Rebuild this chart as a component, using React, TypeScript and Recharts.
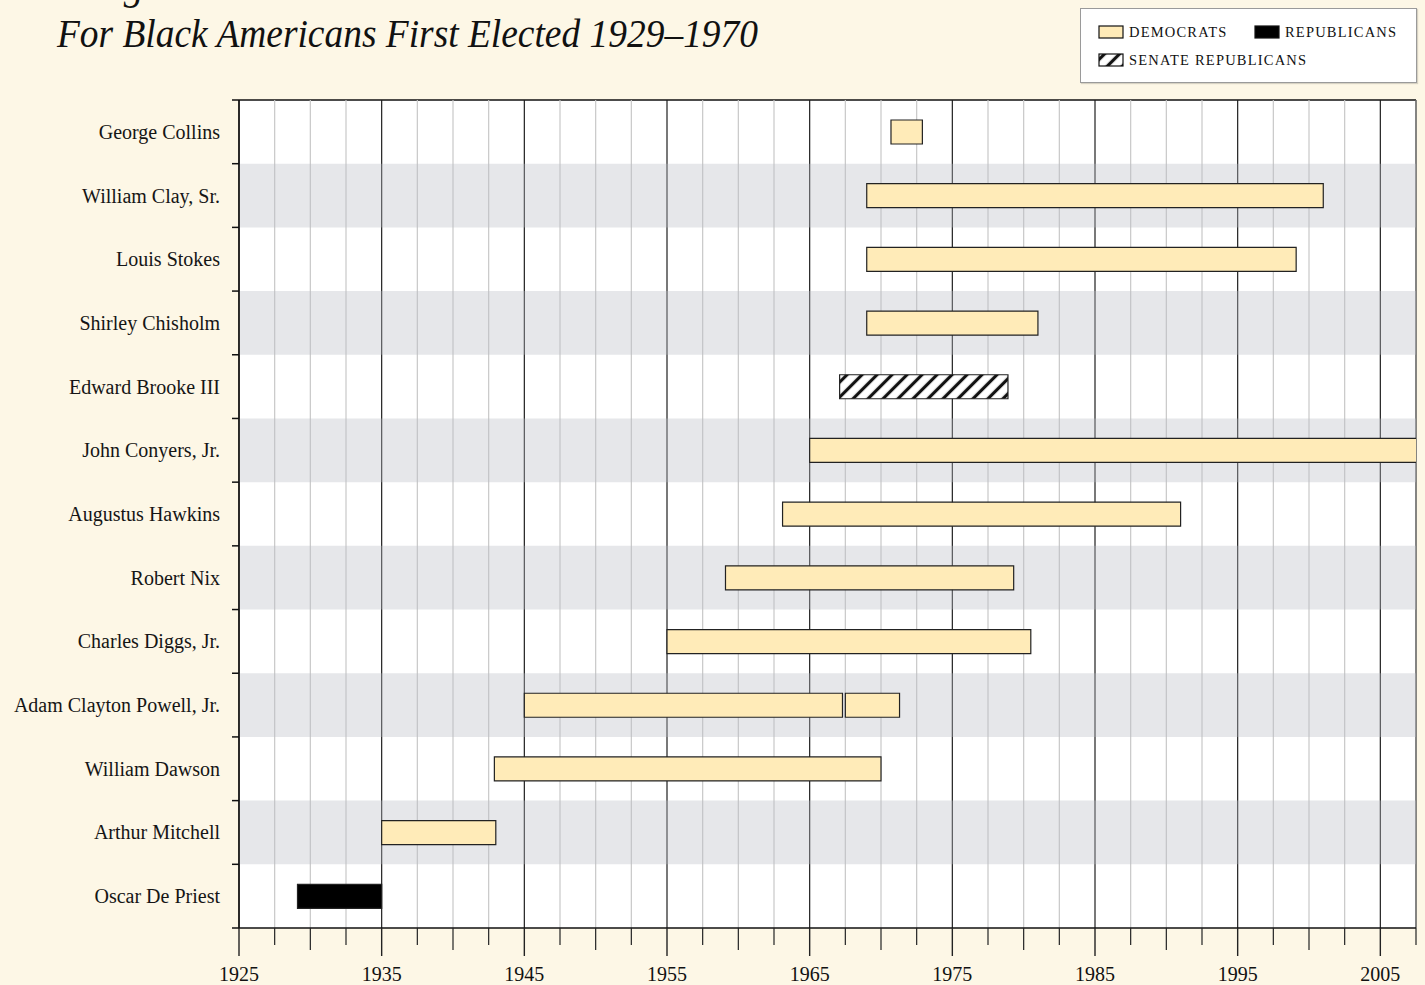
import React from "react";
import {
  BarChart,
  Bar,
  XAxis,
  YAxis,
  CartesianGrid,
  ReferenceArea,
  Cell,
  Legend
} from "recharts";

// members, top row first
const members = [
  "George Collins",
  "William Clay, Sr.",
  "Louis Stokes",
  "Shirley Chisholm",
  "Edward Brooke III",
  "John Conyers, Jr.",
  "Augustus Hawkins",
  "Robert Nix",
  "Charles Diggs, Jr.",
  "Adam Clayton Powell, Jr.",
  "William Dawson",
  "Arthur Mitchell",
  "Oscar De Priest"
];
const termStart = [1970.7, 1969.0, 1969.0, 1969.0, 1967.1, 1965.0, 1963.1, 1959.1, 1955.0, 1945.0, 1942.9, 1935.0, 1929.1];
const termEnd = [1972.9, 2001.0, 1999.1, 1981.0, 1978.9, 2009.0, 1991.0, 1979.3, 1980.5, 1967.3, 1970.0, 1943.0, 1935.0];
// D = democrat, R = republican, S = senate republican
const party = ["D", "D", "D", "D", "S", "D", "D", "D", "D", "D", "D", "D", "R"];
// Powell's second (re-seated) term
const secondTermMember = "Adam Clayton Powell, Jr.";
const secondTerm = [1967.5, 1971.3];

const majorYears = [1925, 1935, 1945, 1955, 1965, 1975, 1985, 1995, 2005];
const yearDomain = [1925, 2007.5];
const yearTicks = majorYears
  .flatMap(y => [y, y + 2.5, y + 5, y + 7.5])
  .filter(y => y <= yearDomain[1]);

const FONT = '"Liberation Serif", "DejaVu Serif", "Times New Roman", serif';
const CREAM = "#fdf7e6";
const DEM_FILL = "#ffebb8";
const BAND = "#b9bcc4";
const NAME_MARGIN = 19;

const data = members.map((name, i) => ({
  name,
  party: party[i],
  term: [termStart[i], termEnd[i]],
  second: name === secondTermMember ? secondTerm : null
}));

const fillFor = (p: string) => (p === "R" ? "#000" : p === "S" ? "url(#senateHatch)" : DEM_FILL);

const YearTick = (props: any) => {
  const { x, y, payload } = props;
  const v = payload.value;
  const major = majorYears.includes(v);
  const five = (v - 1925) % 5 === 0;
  const len = major ? 28 : five ? 22 : 17;
  return (
    <g>
      <line x1={x} x2={x} y1={y} y2={y + len} stroke="#222" strokeWidth={major ? 1.4 : 1.2} />
      {major && (
        <text x={x} y={y + 53} textAnchor="middle" fontSize={20} fontFamily={FONT} fill="#111">
          {v}
        </text>
      )}
    </g>
  );
};

// name label plus little ticks on the row boundaries
const NameTick = (props: any) => {
  const { x, y, payload, index } = props;
  const half = payload.offset || 0;
  const axisX = x + NAME_MARGIN;
  return (
    <g>
      <line x1={axisX - 7} x2={axisX} y1={y - half} y2={y - half} stroke="#111" strokeWidth={1.5} />
      {index === members.length - 1 && (
        <line x1={axisX - 7} x2={axisX} y1={y + half} y2={y + half} stroke="#111" strokeWidth={1.5} />
      )}
      <text x={x} y={y} dy="0.35em" textAnchor="end" fontSize={20} fontFamily={FONT} fill="#151515">
        {payload.value}
      </text>
    </g>
  );
};

const GridLine = (props: any) => {
  const { x1, x2, y1, y2, index } = props;
  const v = yearTicks[index];
  const major = majorYears.includes(v);
  const edge = v === yearDomain[1];
  return (
    <line
      x1={x1}
      x2={x2}
      y1={y1}
      y2={y2}
      stroke={major ? "#1e1e1e" : edge ? "#666" : "#c8c8c8"}
      strokeWidth={major ? 1.2 : edge ? 1.6 : 1.2}
    />
  );
};

const TopLine = (props: any) => {
  const { x1, x2, y, index } = props;
  if (index !== 0) return <g />;
  return <line x1={x1} x2={x2} y1={y} y2={y} stroke="#111" strokeWidth={1.5} />;
};

const Swatch = ({ fill }: { fill: string }) => (
  <svg width={26} height={14} style={{ marginRight: 5, flexShrink: 0 }}>
    <rect x={1} y={1} width={24} height={12} fill={fill} stroke="#111" strokeWidth={1.2} />
  </svg>
);

const legendText: React.CSSProperties = {
  fontSize: 14.5,
  letterSpacing: 1.2,
  color: "#111",
  fontFamily: FONT
};

const renderLegend = () => (
  <div
    style={{
      boxSizing: "border-box",
      width: 337,
      height: 75,
      background: "#fff",
      border: "1px solid #9a9a9a",
      boxShadow: "1px 1px 1px rgba(0,0,0,0.15)",
      padding: "14px 0 0 17px"
    }}
  >
    <div style={{ display: "flex", alignItems: "center", height: 18 }}>
      <Swatch fill={DEM_FILL} />
      <span style={{ ...legendText, width: 125 }}>DEMOCRATS</span>
      <Swatch fill="#000" />
      <span style={legendText}>REPUBLICANS</span>
    </div>
    <div style={{ display: "flex", alignItems: "center", height: 18, marginTop: 10 }}>
      <Swatch fill="url(#senateHatch)" />
      <span style={legendText}>SENATE REPUBLICANS</span>
    </div>
  </div>
);

export default function App() {
  return (
    <div
      style={{
        position: "fixed",
        left: 0,
        top: 0,
        width: 1425,
        height: 985,
        background: CREAM,
        overflow: "hidden",
        fontFamily: FONT
      }}
    >
      <svg width={820} height={100} style={{ position: "absolute", left: 0, top: 0 }}>
        <defs>
          <pattern
            id="senateHatch"
            patternUnits="userSpaceOnUse"
            width={10.6}
            height={10.6}
            patternTransform="rotate(45)"
          >
            <rect width={10.6} height={10.6} fill="#fff" />
            <line x1={5.3} y1={0} x2={5.3} y2={10.6} stroke="#111" strokeWidth={3.2} />
          </pattern>
        </defs>
        <text x={57} y={-1} fontSize={40} fontStyle="italic" fontFamily={FONT} fill="#111">
          Congressional Service
        </text>
        <text
          x={57}
          y={47}
          fontSize={39}
          fontStyle="italic"
          fontFamily={FONT}
          fill="#111"
          textLength={701}
          lengthAdjust="spacingAndGlyphs"
        >
          For Black Americans First Elected 1929–1970
        </text>
      </svg>
      <div style={{ position: "absolute", left: 0, top: 0 }}>
        <BarChart
          width={1425}
          height={985}
          data={data}
          layout="vertical"
          barGap={-24}
          margin={{ top: 100, right: 9, left: 9, bottom: 0 }}
        >
          <CartesianGrid
            yAxisId="names"
            fill="#fff"
            vertical={GridLine}
            horizontal={TopLine}
          />
          {data.map((d, i) =>
            i % 2 === 1 ? (
              <ReferenceArea
                key={d.name}
                yAxisId="names"
                y1={d.name}
                y2={d.name}
                fill={BAND}
                fillOpacity={0.36}
                stroke="none"
              />
            ) : null
          )}
          <XAxis
            type="number"
            domain={yearDomain}
            ticks={yearTicks}
            interval={0}
            allowDataOverflow
            height={57}
            tickSize={0}
            tickMargin={0}
            tickLine={false}
            axisLine={{ stroke: "#111", strokeWidth: 1.5 }}
            tick={<YearTick />}
          />
          <YAxis
            yAxisId="names"
            type="category"
            dataKey="name"
            width={230}
            interval={0}
            axisLine={{ stroke: "#111", strokeWidth: 1.5 }}
            tickLine={false}
            tickSize={0}
            tickMargin={NAME_MARGIN}
            tick={<NameTick />}
          />
          <Legend
            layout="horizontal"
            verticalAlign="middle"
            align="center"
            content={renderLegend}
            wrapperStyle={{ top: 8, left: 1080, width: 337, height: 75 }}
          />
          <Bar
            yAxisId="names"
            dataKey="term"
            barSize={24}
            isAnimationActive={false}
            stroke="#222"
            strokeWidth={1.2}
          >
            {data.map(d => (
              <Cell key={d.name} fill={fillFor(d.party)} />
            ))}
          </Bar>
          <Bar
            yAxisId="names"
            dataKey="second"
            barSize={24}
            isAnimationActive={false}
            fill={DEM_FILL}
            stroke="#222"
            strokeWidth={1.2}
          />
        </BarChart>
      </div>
    </div>
  );
}
